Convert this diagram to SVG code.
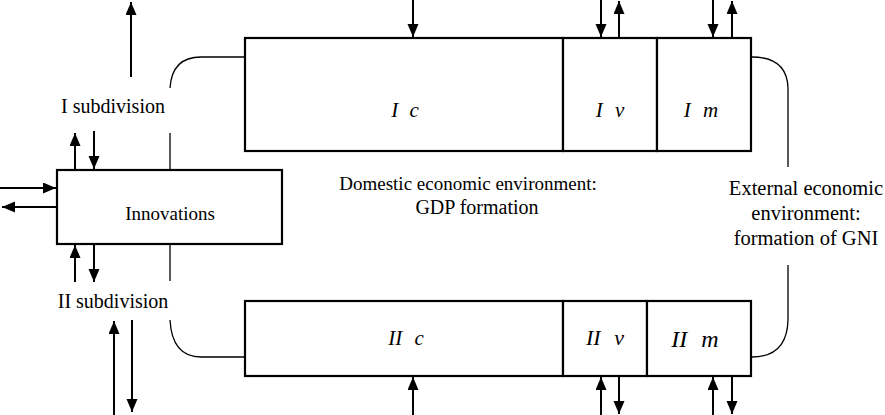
<svg xmlns="http://www.w3.org/2000/svg" width="885" height="415" viewBox="0 0 885 415">
<defs>
<marker id="ah" markerUnits="userSpaceOnUse" markerWidth="13" markerHeight="14" refX="13" refY="5.5" orient="auto">
<path d="M0,0 L13,5.5 L0,11 Z" fill="#000"/>
</marker>
<style>
.box{fill:#fff;stroke:#000;stroke-width:2.2}
.ln{fill:none;stroke:#000;stroke-width:1.3}
.ar{fill:none;stroke:#000;stroke-width:2;marker-end:url(#ah)}
.t{fill:#000}
.it{font-style:italic;fill:#000}
</style>
</defs>
<rect width="885" height="415" fill="#fff"/>
<g id="connectors">
<path class="ln" d="M170,88 Q172,57 201,57 L245,57"/>
<path class="ln" d="M170,133 L170,170"/>
<path class="ln" d="M170,244 L170,281"/>
<path class="ln" d="M170,320 Q172,357 201,357 L245,357"/>
<path class="ln" d="M752,57 Q787,57 788,88 L788,167"/>
<path class="ln" d="M788,265 L788,320 Q787,357 752,357"/>
<path class="ar" d="M131,77 L131,2"/>
<path class="ar" d="M75,170 L75,133"/>
<path class="ar" d="M94,131 L94,169"/>
<path class="ar" d="M0,188 L56,188"/>
<path class="ar" d="M57,207 L2,207"/>
<path class="ar" d="M75,282 L75,245"/>
<path class="ar" d="M94,244 L94,282"/>
<path class="ar" d="M114,415 L114,321"/>
<path class="ar" d="M132,320 L132,412"/>
<path class="ar" d="M413,0 L413,37"/>
<path class="ar" d="M601,0 L601,37"/>
<path class="ar" d="M619,38 L619,1"/>
<path class="ar" d="M713,0 L713,37"/>
<path class="ar" d="M732,38 L732,1"/>
<path class="ar" d="M413,415 L413,377"/>
<path class="ar" d="M601,415 L601,377"/>
<path class="ar" d="M619,376 L619,414"/>
<path class="ar" d="M713,415 L713,377"/>
<path class="ar" d="M732,376 L732,414"/>
</g>
<g font-family="Liberation Serif, DejaVu Serif, serif">
<g id="innovations">
<rect class="box" x="57" y="170" width="225" height="74"/>
<text class="t" x="170" y="220" text-anchor="middle" font-size="19">Innovations</text>
</g>
<g id="Ic">
<rect class="box" x="245" y="38" width="318" height="113"/>
<text class="it" x="405" y="117" text-anchor="middle" word-spacing="6" font-size="21">I c</text>
</g>
<g id="Iv">
<rect class="box" x="563" y="38" width="94" height="113"/>
<text class="it" x="610" y="117" text-anchor="middle" word-spacing="7" font-size="21">I v</text>
</g>
<g id="Im">
<rect class="box" x="657" y="38" width="94" height="113"/>
<text class="it" x="701" y="117" text-anchor="middle" word-spacing="7" font-size="21">I m</text>
</g>
<g id="IIc">
<rect class="box" x="245" y="301" width="318" height="75"/>
<text class="it" x="406" y="345" text-anchor="middle" word-spacing="7" font-size="21">II c</text>
</g>
<g id="IIv">
<rect class="box" x="563" y="301" width="84" height="75"/>
<text class="it" x="605" y="345" text-anchor="middle" word-spacing="8" font-size="22">II v</text>
</g>
<g id="IIm">
<rect class="box" x="647" y="301" width="104" height="75"/>
<text class="it" x="695" y="347" text-anchor="middle" word-spacing="8" font-size="24">II m</text>
</g>
<g id="labels">
<text class="t" x="113" y="113" text-anchor="middle" font-size="20">I subdivision</text>
<text class="t" x="113" y="308" text-anchor="middle" font-size="20">II subdivision</text>
<text class="t" x="468" y="190" text-anchor="middle" font-size="19">Domestic economic environment:</text>
<text class="t" x="477" y="214" text-anchor="middle" font-size="20">GDP formation</text>
<text class="t" x="806" y="195" text-anchor="middle" font-size="20.5">External economic</text>
<text class="t" x="806" y="220" text-anchor="middle" font-size="20.5">environment:</text>
<text class="t" x="806" y="245" text-anchor="middle" font-size="20.5">formation of GNI</text>
</g>
</g>
</svg>
